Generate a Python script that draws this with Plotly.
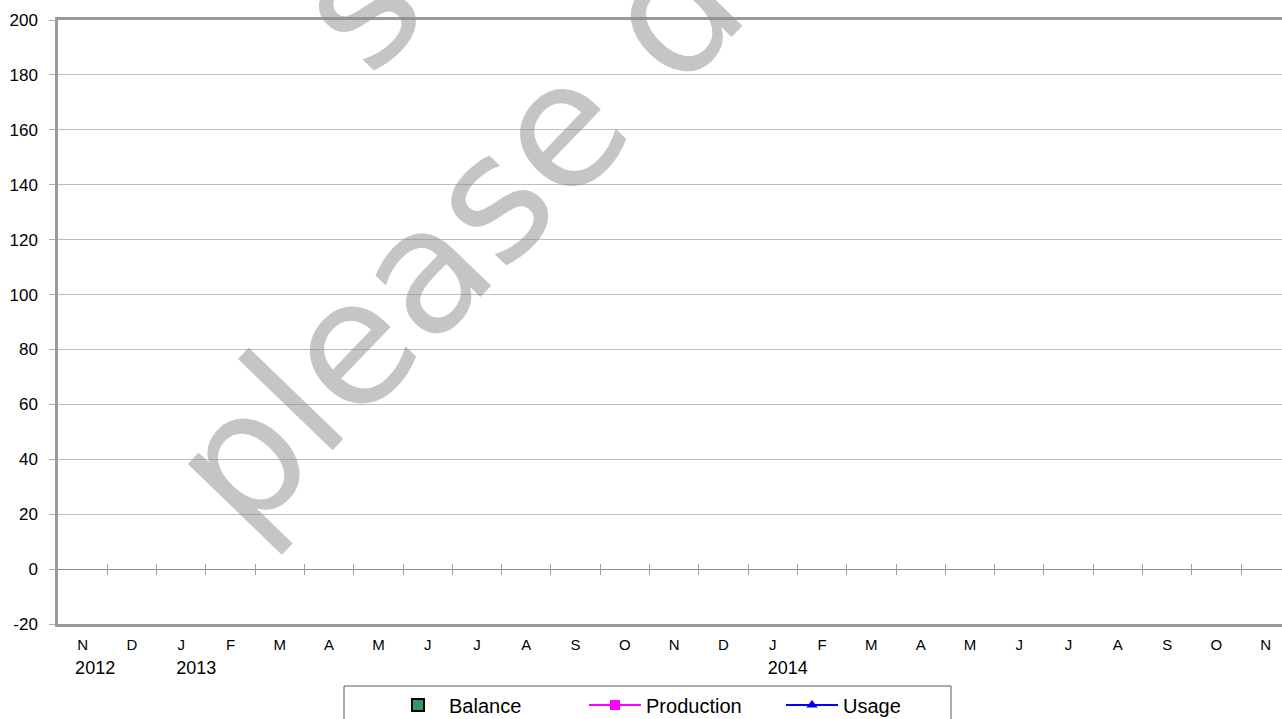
import plotly.graph_objects as go

# ---- data ----
months = ["N", "D", "J", "F", "M", "A", "M", "J", "J", "A", "S", "O",
          "N", "D", "J", "F", "M", "A", "M", "J", "J", "A", "S", "O", "N"]
years = {0: "2012", 2: "2013", 14: "2014"}
balance = [None] * len(months)
production = [None] * len(months)
usage = [None] * len(months)
y_ticks = list(range(-20, 201, 20))
y_ticktext = [str(v) for v in y_ticks]  # plain hyphen for negatives

x_idx = list(range(len(months)))
ticktext = []
for i, m in enumerate(months):
    t = '<span style="font-size:15px">' + m + '</span>'
    if i in years:
        pad = "\u00a0" * (5 if i == 0 else 6)
        t += "<br>" + pad + years[i]
    ticktext.append(t)

FONT = "Liberation Sans, Arial, sans-serif"
FRAME = "#9a9a9a"
WM_FONT = dict(family="DejaVu Sans, sans-serif", size=173, color="rgba(140,140,140,0.5)")

fig = go.Figure()
fig.add_trace(go.Bar(x=x_idx, y=balance, name="Balance",
                     marker=dict(color="#339966", line=dict(color="#000000", width=2))))
fig.add_trace(go.Scatter(x=x_idx, y=production, name="Production", mode="lines+markers",
                         line=dict(color="#ff00ff", width=2),
                         marker=dict(symbol="square", size=10, color="#ff00ff")))
fig.add_trace(go.Scatter(x=x_idx, y=usage, name="Usage", mode="lines+markers",
                         line=dict(color="#0000ff", width=2),
                         marker=dict(symbol="triangle-up", size=10, color="#0000ff")))
# helper traces so the zero-line category tick axes render
fig.add_trace(go.Scatter(x=x_idx, y=[None] * len(months), xaxis="x2", showlegend=False, hoverinfo="skip"))
fig.add_trace(go.Scatter(x=x_idx, y=[None] * len(months), xaxis="x3", showlegend=False, hoverinfo="skip"))

xrange = [-0.5, 24.33]
zero_pos = (0 - y_ticks[0]) / (y_ticks[-1] - y_ticks[0])
bounds = [i + 0.5 for i in range(len(months) - 1)]

fig.update_layout(
    width=1282, height=719,
    margin=dict(l=58, r=0, t=20, b=95, autoexpand=False),
    paper_bgcolor="white", plot_bgcolor="white",
    font=dict(family=FONT, color="black"),
    barmode="group",
    xaxis=dict(range=xrange, tickmode="array", tickvals=x_idx, ticktext=ticktext,
               tickfont=dict(size=18, family=FONT), ticks="", ticklabelstandoff=2,
               showgrid=False, zeroline=False, showline=True, linecolor=FRAME,
               linewidth=2.5, mirror=True, fixedrange=True, automargin=False),
    xaxis2=dict(range=xrange, overlaying="x", anchor="free", position=zero_pos,
                tickmode="array", tickvals=bounds, ticks="outside", ticklen=5,
                tickcolor="#a0a0a0", tickwidth=1, showticklabels=False,
                showgrid=False, zeroline=False, showline=False, automargin=False),
    xaxis3=dict(range=xrange, overlaying="x", anchor="free", position=zero_pos,
                tickmode="array", tickvals=bounds, ticks="inside", ticklen=5,
                tickcolor="#a0a0a0", tickwidth=1, showticklabels=False,
                showgrid=False, zeroline=False, showline=False, automargin=False),
    yaxis=dict(range=[y_ticks[0], y_ticks[-1]], tickmode="array", tickvals=y_ticks,
               ticktext=y_ticktext,
               tickfont=dict(size=17, family=FONT), ticks="outside", ticklen=6,
               tickcolor="#b0b0b0", ticklabelstandoff=8,
               showgrid=True, gridcolor="#bdbdbd", gridwidth=1,
               zeroline=True, zerolinecolor="#8c8c8c", zerolinewidth=1,
               showline=True, linecolor=FRAME, linewidth=2.5, fixedrange=True,
               automargin=False),
    legend=dict(orientation="h", x=0.2688, xanchor="left", y=-0.102, yanchor="top",
                font=dict(size=20, family=FONT), bgcolor="rgba(0,0,0,0)",
                borderwidth=0, itemwidth=52, entrywidthmode="pixels", entrywidth=130,
                traceorder="normal"),
    shapes=[dict(type="rect", xref="paper", yref="paper",
                 x0=(344 - 58) / 1224, x1=(951 - 58) / 1224,
                 y0=(624 - 686) / 604, y1=-0.25,
                 line=dict(color="#595959", width=1), fillcolor="rgba(0,0,0,0)",
                 layer="below")],
    annotations=[
        dict(text="please do not copy", xref="paper", yref="paper",
             x=0.584, y=1.185, xanchor="center", yanchor="middle",
             textangle=-46, showarrow=False, font=WM_FONT),
        dict(text="sample", xref="paper", yref="paper",
             x=0.398, y=1.344, xanchor="center", yanchor="middle",
             textangle=-46, showarrow=False, font=WM_FONT),
    ],
)

fig.write_html("out.html", config={"displayModeBar": False},
               post_script="document.body.style.margin='0';")
